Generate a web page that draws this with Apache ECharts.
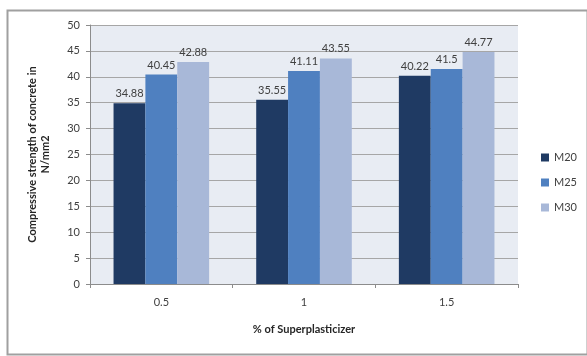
<!DOCTYPE html>
<html>
<head>
<meta charset="utf-8">
<script src="https://cdn.jsdelivr.net/npm/echarts@6/dist/echarts.min.js"></script>
<style>
  html, body { margin: 0; padding: 0; background: #fff; }
  #chart { width: 587px; height: 356px; }
</style>
</head>
<body>
<div id="chart"></div>
<script>
// Superplasticizer dosage (%) on the x axis
const categories = ['0.5', '1', '1.5'];
// Compressive strength (N/mm2) per concrete grade
const m20 = [34.88, 35.55, 40.22];
const m25 = [40.45, 41.11, 41.5];
const m30 = [42.88, 43.55, 44.77];
const seriesNames = ['M20', 'M25', 'M30'];
const seriesColors = ['#1F3A63', '#4F80C0', '#A8B8D8'];

const FONT = 'Lato, "Open Sans", sans-serif';
const chart = echarts.init(document.getElementById('chart'));

function barSeries(name, data, color) {
  return {
    name: name,
    type: 'bar',
    data: data,
    barGap: '0%',
    barCategoryGap: '33%',
    itemStyle: { color: color },
    label: {
      show: true,
      position: 'top',
      distance: 4,
      color: '#404040',
      fontSize: 11,
      fontFamily: FONT
    }
  };
}

chart.setOption({
  animation: false,
  backgroundColor: '#ffffff',
  graphic: [{
    type: 'rect',
    left: 5, top: 8,
    shape: { width: 580, height: 344 },
    style: { fill: 'none', stroke: '#A0A0A0', lineWidth: 2 },
    z: -1
  }],
  grid: {
    left: 90, right: 69, top: 25, bottom: 72,
    show: true,
    backgroundColor: '#E8ECF3',
    borderWidth: 0
  },
  legend: {
    orient: 'vertical',
    left: 536, top: 147,
    itemWidth: 8, itemHeight: 8, itemGap: 14,
    icon: 'rect',
    textStyle: { fontSize: 11, color: '#404040', fontFamily: FONT },
    data: seriesNames
  },
  xAxis: {
    type: 'category',
    data: categories,
    name: '% of Superplasticizer',
    nameLocation: 'middle',
    nameGap: 40,
    nameTextStyle: { fontSize: 11, fontWeight: 'bold', color: '#262626', fontFamily: FONT },
    axisLine: { lineStyle: { color: '#8C8C8C' } },
    axisTick: { show: true, length: 4, lineStyle: { color: '#8C8C8C' } },
    axisLabel: { fontSize: 11, color: '#404040', margin: 13, fontFamily: FONT }
  },
  yAxis: {
    type: 'value',
    min: 0, max: 50, interval: 5,
    name: 'Compressive strength of concrete in\nN/mm2',
    nameLocation: 'middle',
    nameRotate: 90,
    nameGap: 38,
    nameTextStyle: { fontSize: 11, fontWeight: 'bold', color: '#262626', fontFamily: FONT, lineHeight: 13 },
    axisLine: { show: true, lineStyle: { color: '#8C8C8C' } },
    axisTick: { show: true, length: 4, lineStyle: { color: '#8C8C8C' } },
    axisLabel: { fontSize: 11, color: '#404040', margin: 10, fontFamily: FONT },
    splitLine: { lineStyle: { color: '#A6A6A6', width: 1 } }
  },
  series: [
    barSeries(seriesNames[0], m20, seriesColors[0]),
    barSeries(seriesNames[1], m25, seriesColors[1]),
    barSeries(seriesNames[2], m30, seriesColors[2])
  ]
});
</script>
</body>
</html>
